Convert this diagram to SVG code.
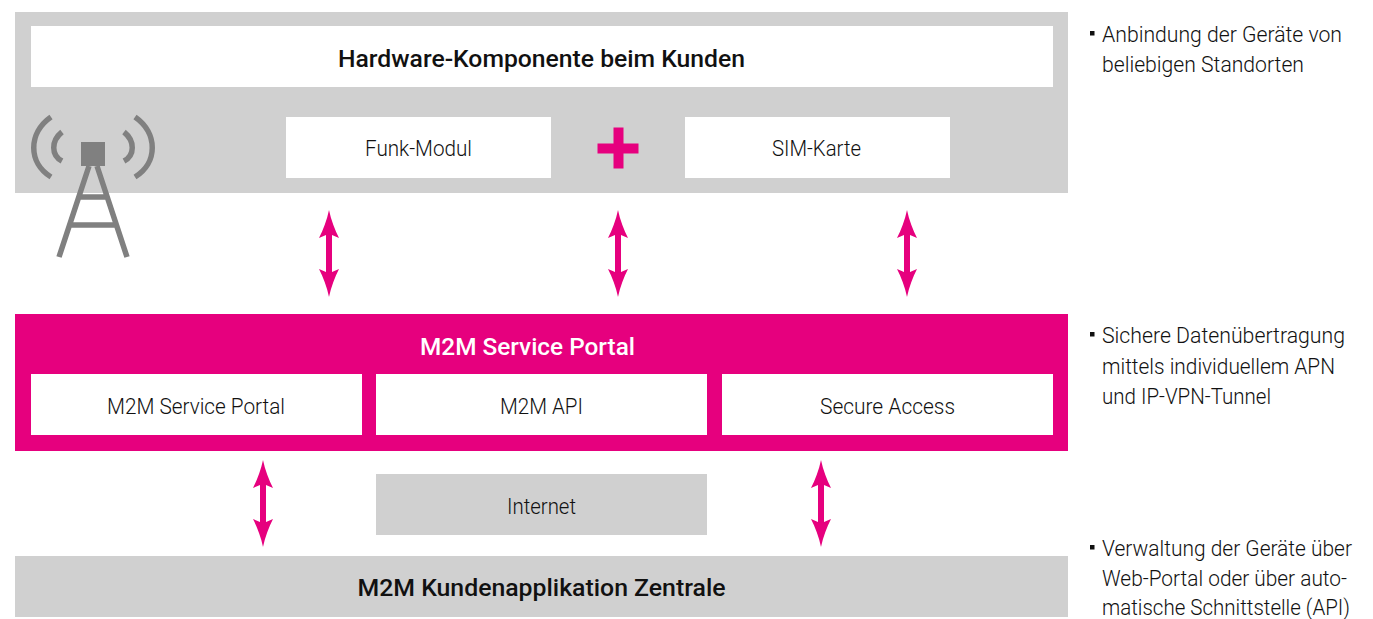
<svg xmlns="http://www.w3.org/2000/svg" width="1373" height="619" viewBox="0 0 1373 619">
<defs>
<style>
text{font-family:Roboto,"Liberation Sans",Arial,sans-serif;fill:#111;font-weight:300}
.c{text-anchor:middle;font-size:22px}
.b{font-weight:500;font-size:24px}
.n{font-size:22px}
.g{fill:#d0d0d0}
.w{fill:#fff}
.m{fill:#e6007e}
.t{fill:none;stroke:#808080;stroke-width:5.500}
.q{fill:#111}
</style>
<path id="arr" d="M0 0C2 10 6 20 10 28L3 25V62L10 59C6 67 2 77 0 87C-2 77 -6 67 -10 59L-3 62V25L-10 28C-6 20 -2 10 0 0Z" fill="#e6007e"/>
</defs>
<rect width="1373" height="619" fill="#fff"/>
<g id="hardware">
<rect class="g" x="15" y="12" width="1053" height="181"/>
<rect class="w" x="31" y="26" width="1022" height="61"/>
<text class="c b" x="541.500" y="67" textLength="407" lengthAdjust="spacingAndGlyphs">Hardware-Komponente beim Kunden</text>
</g>
<g id="antenna">
<rect x="81" y="142" width="24" height="24" fill="#808080"/>
<path class="t" d="M89 166L59 257M97 166L127 257M80 197H107M71 225H116"/>
<path class="t" d="M51 117C28 133 28 163 51 177M62 132C51 141 51 155 62 161M135 117C158 133 158 163 135 177M124 132C135 141 135 155 124 161"/>
</g>
<g id="funk">
<rect class="w" x="286" y="117" width="265" height="61"/>
<text class="c" x="418.500" y="156" textLength="107" lengthAdjust="spacingAndGlyphs">Funk-Modul</text>
</g>
<g id="plus"><path class="m" d="M613.500 127.500H623.500V143.500H638.500V153.500H623.500V168.500H613.500V153.500H597.500V143.500H613.500Z"/></g>
<g id="sim">
<rect class="w" x="685" y="117" width="265" height="61"/>
<text class="c" x="816.500" y="156" textLength="89" lengthAdjust="spacingAndGlyphs">SIM-Karte</text>
</g>
<g id="portal">
<rect class="m" x="15" y="314" width="1053" height="137"/>
<text class="c b" x="527.500" y="355" textLength="215" lengthAdjust="spacingAndGlyphs" style="fill:#fff">M2M Service Portal</text>
<rect class="w" x="31" y="374" width="331" height="61"/>
<text class="c" x="196" y="414" textLength="178" lengthAdjust="spacingAndGlyphs">M2M Service Portal</text>
<rect class="w" x="376" y="374" width="331" height="61"/>
<text class="c" x="541.500" y="414" textLength="83" lengthAdjust="spacingAndGlyphs">M2M API</text>
<rect class="w" x="722" y="374" width="331" height="61"/>
<text class="c" x="887.500" y="414" textLength="135" lengthAdjust="spacingAndGlyphs">Secure Access</text>
</g>
<g id="internet">
<rect class="g" x="376" y="474" width="331" height="61"/>
<text class="c" x="541.500" y="514" textLength="69" lengthAdjust="spacingAndGlyphs">Internet</text>
</g>
<g id="zentrale">
<rect class="g" x="15" y="556" width="1053" height="61"/>
<text class="c b" x="541.500" y="596" textLength="368" lengthAdjust="spacingAndGlyphs">M2M Kundenapplikation Zentrale</text>
</g>
<g id="connectors">
<use href="#arr" x="329" y="210"/>
<use href="#arr" x="618" y="210"/>
<use href="#arr" x="907" y="210"/>
<use href="#arr" x="263" y="460"/>
<use href="#arr" x="821" y="460"/>
</g>
<g id="notes">
<rect class="q" x="1090" y="31" width="4.500" height="4.500"/>
<text class="n" x="1102" y="42" textLength="240" lengthAdjust="spacingAndGlyphs">Anbindung der Geräte von</text>
<text class="n" x="1102" y="72" textLength="202" lengthAdjust="spacingAndGlyphs">beliebigen Standorten</text>
<rect class="q" x="1090" y="332" width="4.500" height="4.500"/>
<text class="n" x="1102" y="343" textLength="243" lengthAdjust="spacingAndGlyphs">Sichere Datenübertragung</text>
<text class="n" x="1102" y="374" textLength="233" lengthAdjust="spacingAndGlyphs">mittels individuellem APN</text>
<text class="n" x="1102" y="404" textLength="169" lengthAdjust="spacingAndGlyphs">und IP-VPN-Tunnel</text>
<rect class="q" x="1090" y="545" width="4.500" height="4.500"/>
<text class="n" x="1102" y="555.500" textLength="250" lengthAdjust="spacingAndGlyphs">Verwaltung der Geräte über</text>
<text class="n" x="1102" y="586" textLength="245" lengthAdjust="spacingAndGlyphs">Web-Portal oder über auto-</text>
<text class="n" x="1102" y="615" textLength="248" lengthAdjust="spacingAndGlyphs">matische Schnittstelle (API)</text>
</g>
</svg>
